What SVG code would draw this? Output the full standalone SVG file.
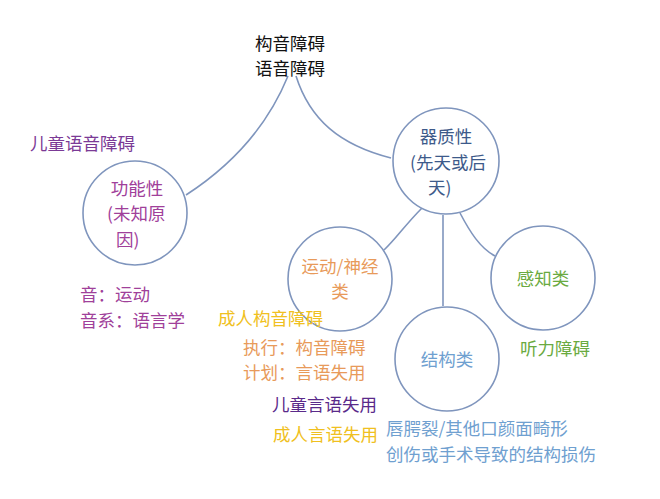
<svg xmlns="http://www.w3.org/2000/svg" width="660" height="499" viewBox="0 0 660 499">
<style>
text{font-family:"Noto Sans CJK SC","Noto Sans",sans-serif;font-size:17.5px}
.c{fill:#fff;stroke:#7f95bd;stroke-width:1.6}
.l{fill:none;stroke:#7f95bd;stroke-width:1.6}
.m{text-anchor:middle}
</style>
<rect width="660" height="499" fill="#fff"/>
<g id="connectors">
<path class="l" d="M288,76 C270,120 240,160 186,195"/>
<path class="l" d="M296,76 C310,120 340,145 391,158"/>
<path class="l" d="M422,208 C405,225 395,240 384,250"/>
<path class="l" d="M443,215 L443,306"/>
<path class="l" d="M460,213 C470,232 480,248 495,256"/>
</g>
<g id="title"><text x="290" y="50" class="m" fill="#111">构音障碍</text><text x="290" y="75" class="m" fill="#111">语音障碍</text></g>
<g id="functional">
<circle class="c" cx="135" cy="213" r="52"/>
<text x="137" y="195" class="m" fill="#a0409a">功能性</text>
<text x="107" y="220" fill="#a0409a">(未知原</text>
<text x="116" y="246" fill="#a0409a">因)</text>
</g>
<g id="organic">
<circle class="c" cx="446" cy="161" r="53"/>
<text x="446" y="143" class="m" fill="#3d5a8a">器质性</text>
<text x="410" y="169" fill="#3d5a8a">(先天或后</text>
<text x="428" y="194" fill="#3d5a8a">天)</text>
</g>
<g id="motor">
<circle class="c" cx="340" cy="279" r="52"/>
<text x="340" y="273" class="m" fill="#e89a5a">运动/神经</text>
<text x="340" y="298" class="m" fill="#e89a5a">类</text>
</g>
<g id="structural">
<circle class="c" cx="447" cy="359" r="52"/>
<text x="447" y="366" class="m" fill="#6fa0d0">结构类</text>
</g>
<g id="perceptual">
<circle class="c" cx="543" cy="278" r="52"/>
<text x="543" y="285" class="m" fill="#6aaa40">感知类</text>
</g>
<g id="labels">
<text x="30" y="150" fill="#7b3a96">儿童语音障碍</text>
<text x="80" y="301" fill="#a0409a">音：运动</text>
<text x="80" y="327" fill="#a0409a">音系：语言学</text>
<text x="218" y="325" fill="#f0c020">成人构音障碍</text>
<text x="243" y="354" fill="#e89a5a">执行：构音障碍</text>
<text x="243" y="379" fill="#e89a5a">计划：言语失用</text>
<text x="272" y="411" fill="#5a2a8a">儿童言语失用</text>
<text x="273" y="441" fill="#f0c020">成人言语失用</text>
<text x="386" y="435" fill="#6fa0d0">唇腭裂/其他口颜面畸形</text>
<text x="386" y="461" fill="#6fa0d0">创伤或手术导致的结构损伤</text>
<text x="520" y="355" fill="#6aaa40">听力障碍</text>
</g>
</svg>
